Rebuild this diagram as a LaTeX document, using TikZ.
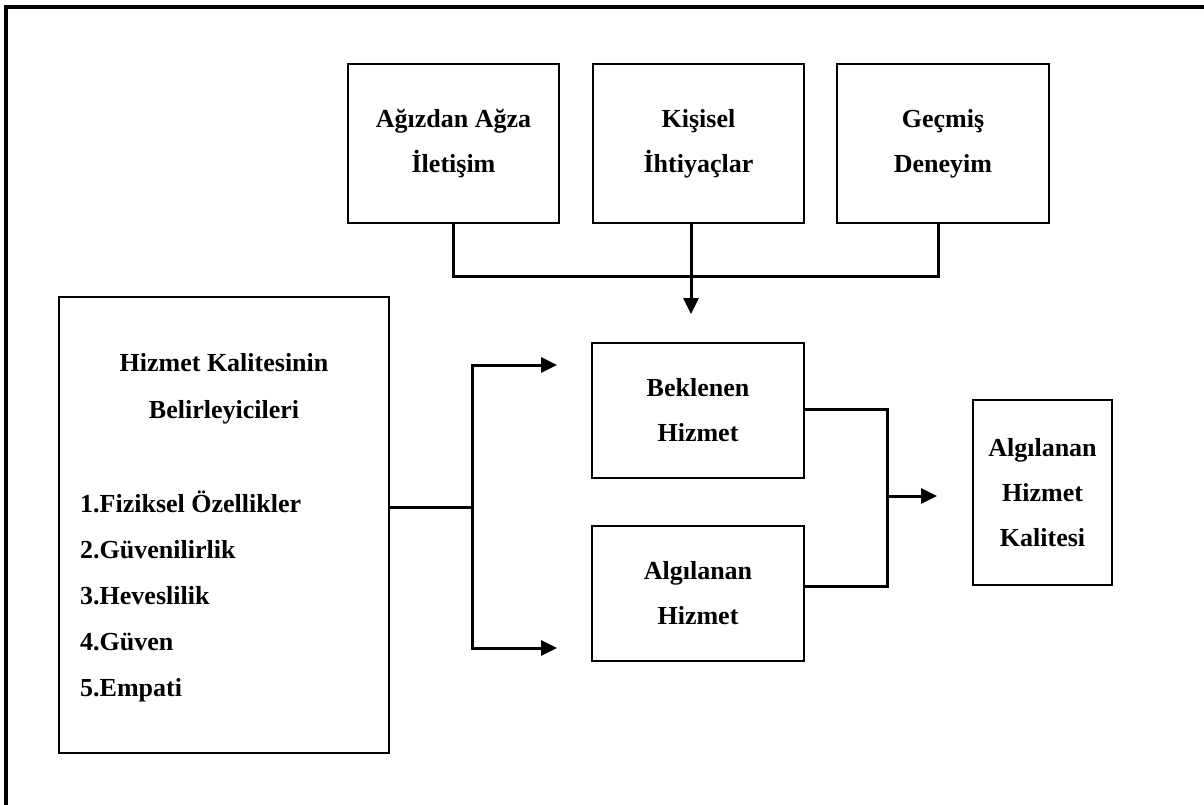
\documentclass[tikz,border=0pt]{standalone}
\usepackage{fontspec}
\setmainfont{Liberation Serif}
\usetikzlibrary{arrows.meta,calc}
\begin{document}
\begin{tikzpicture}[x=1pt,y=-1pt,
  txt/.style={font=\bfseries\fontsize{26}{45}\selectfont, align=center, inner sep=0pt},
  box/.style={txt, draw, line width=2.6pt},
  link/.style={line width=3pt},
  arr/.style={link, -{Triangle[length=16pt,width=15pt]}}]
\useasboundingbox (0,0) rectangle (1204,805);

% page frame (top and left edges)
\draw[line width=3.2pt] (6,805) -- (6,7) -- (1204,7);

% upper row of influences
\node[box, minimum width=211pt, minimum height=159pt] (wom) at (453.5,143.5) {Ağızdan Ağza\\İletişim};
\node[box, minimum width=211pt, minimum height=159pt] (kis) at (698.5,143.5) {Kişisel\\İhtiyaçlar};
\node[box, minimum width=212pt, minimum height=159pt] (geo) at (943,143.5) {Geçmiş\\Deneyim};

% determinants box
\node[draw, line width=2.6pt, minimum width=330pt, minimum height=456pt] (det) at (224,525) {};
\node[txt, font=\bfseries\fontsize{26}{47}\selectfont] (dettitle) at (224,388.5) {Hizmet Kalitesinin\\Belirleyicileri};
\node[txt, align=left, anchor=west, font=\bfseries\fontsize{26}{46}\selectfont] (detlist) at (80,596)
  {1.Fiziksel Özellikler\\2.Güvenilirlik\\3.Heveslilik\\4.Güven\\5.Empati};

% expected and perceived service
\node[box, minimum width=212pt, minimum height=135pt] (exp) at (698,410.5) {Beklenen\\Hizmet};
\node[box, minimum width=212pt, minimum height=135pt] (per) at (698,593.5) {Algılanan\\Hizmet};

% perceived service quality
\node[box, minimum width=139pt, minimum height=185pt] (qual) at (1042.5,492.5) {Algılanan\\Hizmet\\Kalitesi};

% junction coordinates
\coordinate (topin) at (691,314);
\coordinate (split) at (472,507);
\coordinate (inA) at (557,365);
\coordinate (inB) at (557,648);
\coordinate (merge) at (887,496);
\coordinate (qin) at (937,496);

% connectors
\draw[link] (wom.south) |- (938,276) -- (geo.south -| 938,0);
\draw[arr] (kis.south -| topin) -- (topin);
\draw[link] (det.east |- split) -- (split);
\draw[arr] (split) |- (inA);
\draw[arr] (split) |- (inB);
\draw[link] (exp.east |- 0,409) -| (merge) |- (per.east |- 0,586);
\draw[arr] (merge) -- (qin);
\end{tikzpicture}
\end{document}
